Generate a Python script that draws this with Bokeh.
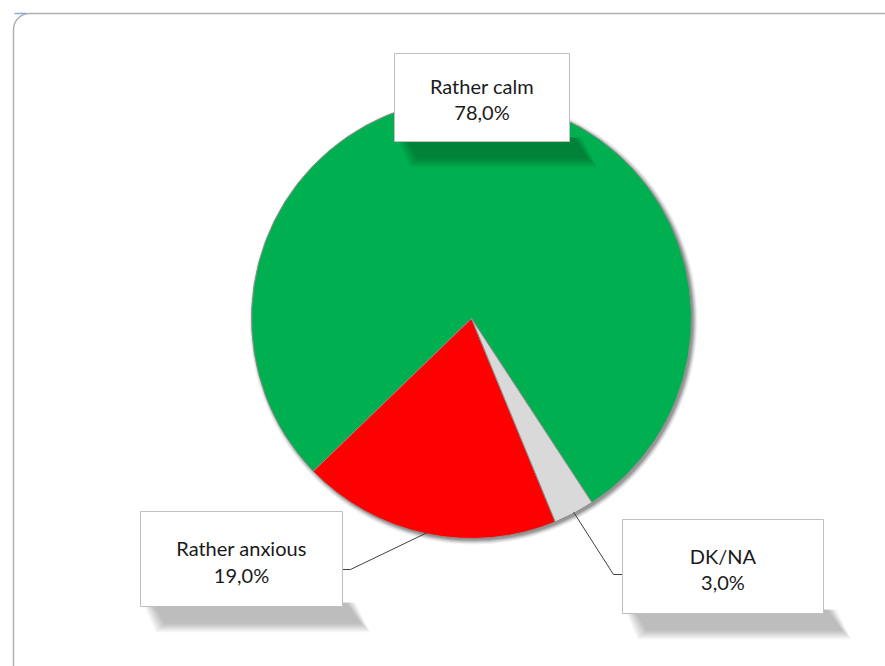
import numpy as np
from bokeh.plotting import figure
from bokeh.models import ColumnDataSource
from bokeh.embed import file_html
from bokeh.resources import INLINE
from bokeh.core.properties import value

# ---- data ----
categories = ["Rather calm", "Rather anxious", "DK/NA"]
shares = [78.0, 19.0, 3.0]
colors = ["#00B050", "#FF0000", "#D9D9D9"]

# ---- layout (pixels, y measured downward from top) ----
W, H = 885, 666
CX, CY, R = 471, 318, 220
START_DEG = -56.8
FONT = "Lato"
FS = "20px"

box_l = [394, 140, 622]
box_r = [569, 342, 823]
box_t = [53, 511, 519]
box_b = [141, 606, 613]
line1_mid = [85, 547, 555]
line2_mid = [111, 574, 581]
# leader: box attachment side point and elbow (None for no leader)
leader_box = [None, (342, 569), (622, 574)]
leader_elbow = [None, (350, 569), (613, 574)]


def Y(yp):
    return H - yp


p = figure(width=W, height=H, x_range=(0, W), y_range=(0, H),
           output_backend="svg", toolbar_location=None, min_border=0)
p.axis.visible = False
p.grid.visible = False
p.outline_line_color = None
p.background_fill_color = "white"
p.border_fill_color = "white"

# chart area frame
p.quad(left=13, right=W + 40, top=Y(13), bottom=-40, border_radius=16,
       fill_color=None, line_color="#b0b0b0", line_width=1.5)
p.line(x=[14, 26], y=[Y(13), Y(13)], line_color="#8eaadb", line_width=1.5)

# pie shadow
for k, a in [(4, 0.05), (3, 0.07), (2, 0.09), (1, 0.12), (0, 0.15)]:
    p.circle(x=CX + 2, y=Y(CY) - 2, radius=R + k, fill_color="black",
             fill_alpha=a, line_color=None)

# pie wedges
vals = np.array(shares, dtype=float)
frac = vals / vals.sum()
start0 = np.deg2rad(START_DEG)
ends = start0 + np.cumsum(frac) * 2 * np.pi
starts = ends - frac * 2 * np.pi
mids = (starts + ends) / 2

src = ColumnDataSource(dict(start=starts, end=ends, color=colors, cat=categories))
p.wedge(x=CX, y=Y(CY), radius=R, start_angle="start", end_angle="end",
        fill_color="color", line_color="#8c8c8c", line_width=1, source=src)

# leader lines
for i in range(len(categories)):
    if leader_box[i] is None:
        continue
    ax = CX + (R - 1) * np.cos(mids[i])
    ay = Y(CY) + (R - 1) * np.sin(mids[i])
    bx, by = leader_box[i]
    ex, ey = leader_elbow[i]
    p.line(x=[bx, ex, ax], y=[Y(by), Y(ey), ay], line_color="#404040", line_width=1)

# label box shadows (skewed, soft)
sh_xs, sh_ys = [], []
for i in range(len(categories)):
    L, Rr, B = box_l[i], box_r[i], box_b[i]
    for e in [6, 5, 4, 3, 2, 1, 0, -1, -2, -3]:
        sh_xs.append([L + 8 - e, Rr + 7 + e, Rr + 22 + e, L + 21 - e])
        sh_ys.append([Y(B - 4), Y(B - 4), Y(B + 20 + e), Y(B + 20 + e)])
p.patches(xs=sh_xs, ys=sh_ys, fill_color="black", fill_alpha=0.026,
          line_color=None)

# label boxes
p.quad(left=box_l, right=box_r, top=[Y(t) for t in box_t],
       bottom=[Y(b) for b in box_b], fill_color="white",
       line_color="#bfbfbf", line_width=1)

pct_labels = [f"{v:.1f}".replace(".", ",") + "%" for v in shares]
cx_lab = [(a + b) / 2 for a, b in zip(box_l, box_r)]
p.text(x=cx_lab, y=[Y(v) for v in line1_mid], text=categories,
       text_align="center", text_baseline="middle",
       text_font=value(FONT), text_font_size=FS, text_color="#1a1a1a")
p.text(x=cx_lab, y=[Y(v) for v in line2_mid], text=pct_labels,
       text_align="center", text_baseline="middle",
       text_font=value(FONT), text_font_size=FS, text_color="#1a1a1a")

open("out.html", "w").write(file_html(p, INLINE))
